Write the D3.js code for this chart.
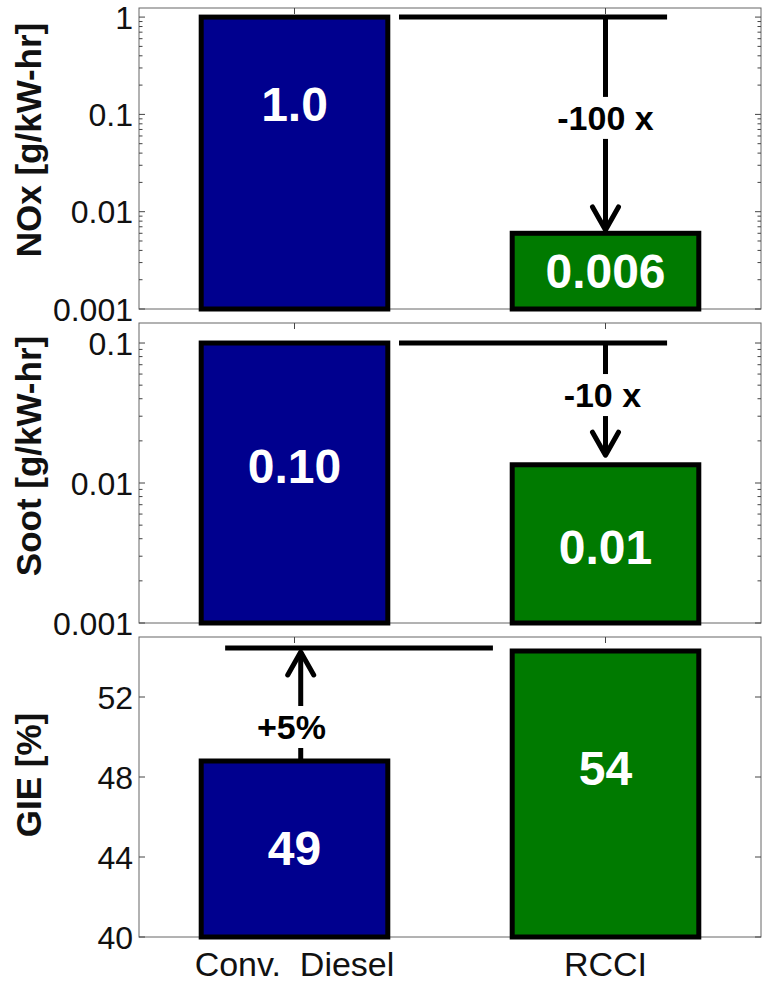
<!DOCTYPE html>
<html>
<head>
<meta charset="utf-8">
<script src="https://cdn.jsdelivr.net/npm/d3@7"></script>
<style>
  body { margin: 0; background: #fff; }
  text { font-family: "Liberation Sans", Arial, sans-serif; }
</style>
</head>
<body>
<svg width="769" height="987"></svg>
<script>
// data
const categories = ["Conv.  Diesel", "RCCI"];
const noxValues = [1.0, 0.006];
const sootValues = [0.1, 0.0135];
const gieValues = [48.8, 54.3];

const noxLabels = ["1.0", "0.006"];
const sootLabels = ["0.10", "0.01"];
const gieLabels = ["49", "54"];
// value where each label sits inside its bar
const noxLabelAt = [0.13, 0.0025];
const sootLabelAt = [0.0132, 0.0035];
const gieLabelAt = [44.45, 48.45];

const noxTicks = [0.001, 0.01, 0.1, 1];
const noxTickLabels = ["0.001", "0.01", "0.1", "1"];
const sootTicks = [0.001, 0.01, 0.1];
const sootTickLabels = ["0.001", "0.01", "0.1"];
const gieTicks = [40, 44, 48, 52];
const gieTickLabels = ["40", "44", "48", "52"];

// annotations: bracket line, arrow and its text
const noxNote = { line: [1.336, 2.198], lineY: 1.0, ax: 2.0, from: 1.0, to: 0.0065, textY: 0.092, textX: 2.0, text: "-100 x" };
const sootNote = { line: [1.336, 2.198], lineY: 0.1, ax: 2.0, from: 0.1, to: 0.0158, textY: 0.0425, textX: 1.99, text: "-10 x" };
const gieNote = { line: [0.777, 1.638], lineY: 54.45, ax: 1.02, from: 48.8, to: 54.25, textY: 50.5, textX: 0.99, text: "+5%" };

const colors = ["#00008e", "#007a00"];

const svg = d3.select("svg");
const left = 139, right = 761;

const x = d3.scaleLinear().domain([0.5, 2.5]).range([left, right]);

const panels = [
  { top: 8, bottom: 309, log: true, domain: [0.001, 1.24], values: noxValues, labels: noxLabels, labelAt: noxLabelAt,
    ticks: noxTicks, tickLabels: noxTickLabels, note: noxNote, title: "NOx [g/kW-hr]", titleY: 140 },
  { top: 323, bottom: 623, log: true, domain: [0.001, 0.139], values: sootValues, labels: sootLabels, labelAt: sootLabelAt,
    ticks: sootTicks, tickLabels: sootTickLabels, note: sootNote, title: "Soot [g/kW-hr]", titleY: 456 },
  { top: 637, bottom: 937, log: false, domain: [40, 55], values: gieValues, labels: gieLabels, labelAt: gieLabelAt,
    ticks: gieTicks, tickLabels: gieTickLabels, note: gieNote, title: "GIE [%]", titleY: 775 }
];

panels.forEach(function (p, pi) {
  const y = (p.log ? d3.scaleLog() : d3.scaleLinear())
    .domain(p.domain)
    .range([p.bottom, p.top]);
  const g = svg.append("g");

  // box
  g.append("rect")
    .attr("x", left).attr("y", p.top)
    .attr("width", right - left).attr("height", p.bottom - p.top)
    .attr("fill", "#fff").attr("stroke", "#666").attr("stroke-width", 1);

  // minor log ticks
  if (p.log) {
    const minor = [];
    p.ticks.forEach(function (t) {
      for (let k = 2; k <= 9; k++) {
        const v = t * k;
        if (v < p.domain[1]) minor.push(v);
      }
    });
    [[left, 1], [right, -1]].forEach(function (s) {
      g.selectAll(null).data(minor).enter().append("line")
        .attr("x1", s[0]).attr("x2", s[0] + s[1] * 3.5)
        .attr("y1", (d) => y(d)).attr("y2", (d) => y(d))
        .attr("stroke", "#444").attr("stroke-width", 1);
    });
  }

  // major ticks both sides
  [[left, 1], [right, -1]].forEach(function (s) {
    g.selectAll(null).data(p.ticks).enter().append("line")
      .attr("x1", s[0]).attr("x2", s[0] + s[1] * 6)
      .attr("y1", (d) => y(d)).attr("y2", (d) => y(d))
      .attr("stroke", "#444").attr("stroke-width", 1);
  });

  // x ticks on top / bottom
  [[p.top, 1], [p.bottom, -1]].forEach(function (s) {
    g.selectAll(null).data([1, 2]).enter().append("line")
      .attr("x1", (d) => x(d)).attr("x2", (d) => x(d))
      .attr("y1", s[0]).attr("y2", s[0] + s[1] * 6)
      .attr("stroke", "#444").attr("stroke-width", 1);
  });

  // tick labels
  g.selectAll(null).data(p.ticks).enter().append("text")
    .attr("x", left - 6)
    .attr("y", (d) => y(d))
    .attr("dy", "0.36em")
    .attr("text-anchor", "end")
    .attr("font-size", 32)
    .attr("fill", "#111")
    .text((d, i) => p.tickLabels[i]);

  // y title
  g.append("text")
    .attr("transform", "translate(41," + p.titleY + ") rotate(-90)")
    .attr("text-anchor", "middle")
    .attr("font-size", 35)
    .attr("font-weight", "bold")
    .attr("fill", "#111")
    .text(p.title);

  // bars
  const bw = x(1.3) - x(0.7);
  g.selectAll(null).data(p.values).enter().append("rect")
    .attr("x", (d, i) => x(i + 1) - bw / 2)
    .attr("y", (d) => y(d))
    .attr("width", bw)
    .attr("height", (d) => p.bottom - y(d))
    .attr("fill", (d, i) => colors[i])
    .attr("stroke", "#000")
    .attr("stroke-width", 5);

  // bar labels
  g.selectAll(null).data(p.labels).enter().append("text")
    .attr("x", (d, i) => x(i + 1))
    .attr("y", (d, i) => y(p.labelAt[i]))
    .attr("dy", "0.36em")
    .attr("text-anchor", "middle")
    .attr("font-size", 48)
    .attr("font-weight", "bold")
    .attr("fill", "#fff")
    .text((d) => d);

  // annotation
  const n = p.note;
  const ax = x(n.ax);
  const y0 = y(n.from), y1 = y(n.to), ty = y(n.textY);
  const dir = y1 > y0 ? 1 : -1;
  const gap = 21;
  g.append("line")
    .attr("x1", x(n.line[0])).attr("x2", x(n.line[1]))
    .attr("y1", y(n.lineY)).attr("y2", y(n.lineY))
    .attr("stroke", "#000").attr("stroke-width", 5);
  g.append("line")
    .attr("x1", ax).attr("x2", ax)
    .attr("y1", y0).attr("y2", ty - dir * gap)
    .attr("stroke", "#000").attr("stroke-width", 5);
  g.append("line")
    .attr("x1", ax).attr("x2", ax)
    .attr("y1", ty + dir * gap).attr("y2", y1)
    .attr("stroke", "#000").attr("stroke-width", 5);
  g.append("path")
    .attr("d", d3.line()([[ax - 13, y1 - dir * 23], [ax, y1], [ax + 13, y1 - dir * 23]]))
    .attr("fill", "none")
    .attr("stroke", "#000")
    .attr("stroke-width", 5)
    .attr("stroke-linecap", "round")
    .attr("stroke-linejoin", "round");
  g.append("text")
    .attr("x", x(n.textX))
    .attr("y", ty)
    .attr("dy", "0.36em")
    .attr("text-anchor", "middle")
    .attr("font-size", 34)
    .attr("font-weight", "bold")
    .attr("fill", "#000")
    .text(n.text);

  // category labels under last panel
  if (pi === panels.length - 1) {
    g.selectAll(null).data(categories).enter().append("text")
      .attr("x", (d, i) => x(i + 1))
      .attr("y", p.bottom + 39)
      .attr("text-anchor", "middle")
      .attr("font-size", 34)
      .attr("fill", "#111")
      .style("white-space", "pre")
      .text((d) => d);
  }
});
</script>
</body>
</html>
